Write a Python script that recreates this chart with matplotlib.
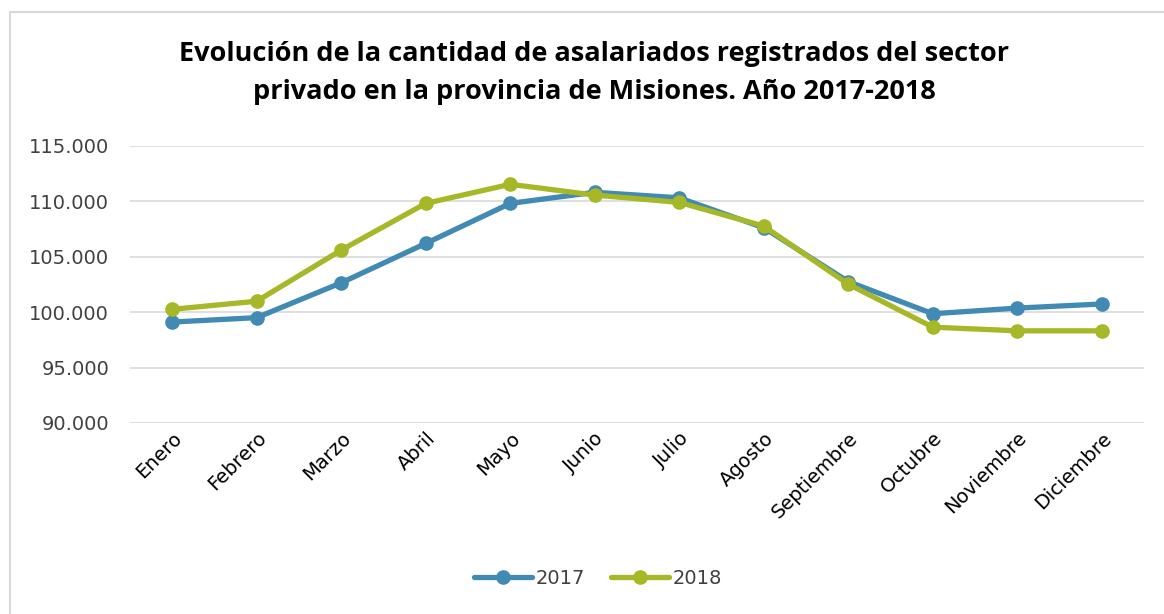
import matplotlib
matplotlib.use("Agg")
import matplotlib.pyplot as plt
from matplotlib.patches import Rectangle
from matplotlib.ticker import FuncFormatter

months = ["Enero", "Febrero", "Marzo", "Abril", "Mayo", "Junio", "Julio",
          "Agosto", "Septiembre", "Octubre", "Noviembre", "Diciembre"]
s2017 = [99100, 99500, 102640, 106190, 109800, 110800, 110300, 107600,
         102750, 99850, 100360, 100730]
s2018 = [100250, 100980, 105590, 109800, 111520, 110550, 109890, 107750,
         102520, 98640, 98310, 98310]
yticks = [90000, 95000, 100000, 105000, 110000, 115000]
title = ("Evolución de la cantidad de asalariados registrados del sector\n"
         "privado en la provincia de Misiones. Año 2017-2018")

W, H = 1164, 614
fig = plt.figure(figsize=(W / 100, H / 100), dpi=100)
fig.patch.set_facecolor("white")

# chart border
fig.add_artist(Rectangle((10 / W, -0.05), 1.2, 1 - 12 / H + 0.05,
                         transform=fig.transFigure, fill=False,
                         edgecolor="#D9D9D9", linewidth=1.5))

ax = fig.add_axes([130 / W, 1 - 423 / H, (1144 - 130) / W, (423 - 145.7) / H])
x = list(range(len(months)))
c17 = "#418AB3"
c18 = "#A6B727"
ax.plot(x, s2017, color=c17, lw=3.8, marker="o", ms=9.5, label="2017",
        solid_capstyle="round", zorder=3)
ax.plot(x, s2018, color=c18, lw=3.8, marker="o", ms=9.5, label="2018",
        solid_capstyle="round", zorder=4)

ax.set_xlim(-0.5, len(months) - 0.5)
ax.set_ylim(90000, 115000)
ax.set_yticks(yticks)
ax.yaxis.set_major_formatter(FuncFormatter(lambda v, p: f"{int(v):,}".replace(",", ".")))
ax.grid(axis="y", color="#D9D9D9", lw=1.2)
ax.set_axisbelow(True)
for s in ax.spines.values():
    s.set_visible(False)
ax.tick_params(length=0)
ax.tick_params(axis="y", labelsize=14, labelcolor="#404040", pad=15)
ax.set_xticks(x)
ax.set_xticklabels(months, rotation=45, ha="right", rotation_mode="anchor",
                   fontsize=14, color="#000000")
ax.tick_params(axis="x", pad=4)

fig.text(594 / W, 1 - 73 / H, title, ha="center", va="center",
         fontsize=19.5, fontweight="bold", family="Open Sans",
         linespacing=1.62, color="#000000")

leg = fig.legend(loc="center", bbox_to_anchor=(598 / W, 1 - 578 / H),
                 ncol=2, frameon=False, fontsize=14, handlelength=3.0,
                 columnspacing=1.3, handletextpad=0.2)
for t in leg.get_texts():
    t.set_color("#404040")

fig.savefig("out.png", dpi=100, facecolor="white")
